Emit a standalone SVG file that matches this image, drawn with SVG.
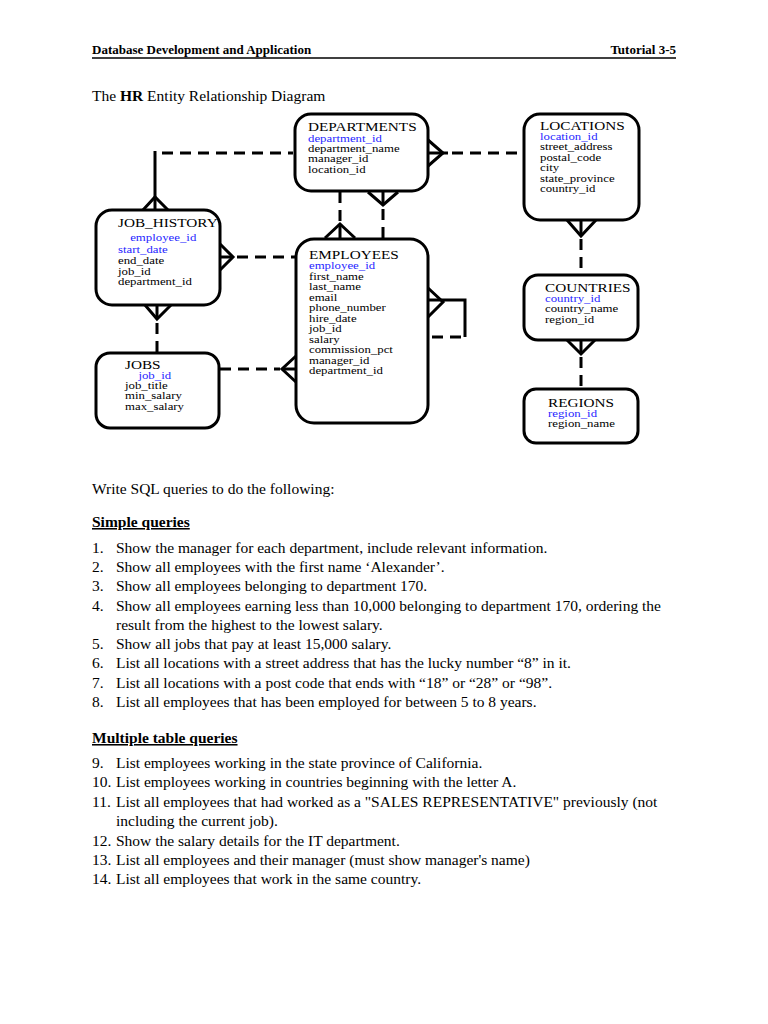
<svg xmlns="http://www.w3.org/2000/svg" width="768" height="1024" viewBox="0 0 768 1024">
<style>
.box{fill:#fff;stroke:#000;stroke-width:3}
.ln{fill:none;stroke:#000;stroke-width:3}
.ds{fill:none;stroke:#000;stroke-width:3;stroke-dasharray:11 7}
text{font-family:"Liberation Serif","Times New Roman",serif;fill:#000}
.ti{font-size:12.5px}
.f{font-size:10.5px}
.k{fill:#1f1fff}
.b{font-size:15.5px}
.h{font-size:13px;font-weight:bold}
</style>
<rect width="768" height="1024" fill="#fff"/>
<g id="header">
<text class="h" x="92" y="54">Database Development and Application</text>
<text class="h" x="676" y="54" text-anchor="end">Tutorial 3-5</text>
<line x1="92" y1="58" x2="676" y2="58" stroke="#000" stroke-width="1.5"/>
<text class="b" x="92" y="101">The <tspan font-weight="bold">HR</tspan> Entity Relationship Diagram</text>
</g>
<g id="connectors">
<polyline class="ln" points="428,140 443,153 428,166"/>
<line class="ln" x1="428" y1="153" x2="448" y2="153"/>
<line class="ds" x1="452" y1="153" x2="524" y2="153"/>
<line class="ds" x1="162" y1="153" x2="293" y2="153"/>
<line class="ln" x1="155" y1="151" x2="155" y2="210"/>
<polyline class="ln" points="143,210 155,197 168,210"/>
<polyline class="ln" points="567,220 581,236 596,220"/>
<line class="ln" x1="581" y1="220" x2="581" y2="236"/>
<line class="ds" x1="581" y1="239" x2="581" y2="274"/>
<polyline class="ln" points="567,340 581,354 595,340"/>
<line class="ln" x1="581" y1="340" x2="581" y2="354"/>
<line class="ds" x1="581" y1="357" x2="581" y2="388"/>
<polyline class="ln" points="220,244 233,257 220,270"/>
<line class="ln" x1="220" y1="257" x2="233" y2="257"/>
<line class="ds" x1="237" y1="257" x2="295" y2="257"/>
<polyline class="ln" points="145,305 157,319 171,305"/>
<line class="ln" x1="157" y1="305" x2="157" y2="319"/>
<line class="ds" x1="157" y1="323" x2="157" y2="352"/>
<line class="ds" x1="220" y1="369" x2="280" y2="369"/>
<line class="ln" x1="282" y1="369" x2="296" y2="369"/>
<polyline class="ln" points="296,356 282,369 296,382"/>
<line class="ds" x1="340" y1="192" x2="340" y2="222"/>
<polyline class="ln" points="325,238 340,224 355,238"/>
<line class="ln" x1="340" y1="224" x2="340" y2="238"/>
<polyline class="ln" points="368,192 383,205 398,192"/>
<line class="ln" x1="383" y1="192" x2="383" y2="205"/>
<line class="ds" x1="383" y1="209" x2="383" y2="238"/>
<polyline class="ln" points="428,288 443,302 428,317"/>
<polyline class="ln" points="428,300 465,300 465,337"/>
<line class="ds" x1="461" y1="337" x2="428" y2="337"/>
</g>
<g id="departments">
<rect class="box" x="295" y="114" width="133" height="77" rx="16"/>
<g transform="translate(308 0) scale(1.22 1) translate(-308 0)">
<text class="ti" x="308" y="131">DEPARTMENTS</text>
<text class="f k" x="308" y="142">department_id</text>
<text class="f" x="308" y="152">department_name</text>
<text class="f" x="308" y="162.5">manager_id</text>
<text class="f" x="308" y="173">location_id</text>
</g>
</g>
<g id="locations">
<rect class="box" x="524" y="114" width="115" height="106" rx="16"/>
<g transform="translate(540 0) scale(1.22 1) translate(-540 0)">
<text class="ti" x="540" y="130">LOCATIONS</text>
<text class="f k" x="540" y="140">location_id</text>
<text class="f" x="540" y="150.5">street_address</text>
<text class="f" x="540" y="161">postal_code</text>
<text class="f" x="540" y="171.5">city</text>
<text class="f" x="540" y="182">state_province</text>
<text class="f" x="540" y="192.5">country_id</text>
</g>
</g>
<g id="job_history">
<rect class="box" x="96" y="210" width="124" height="95" rx="16"/>
<g transform="translate(118 0) scale(1.22 1) translate(-118 0)">
<text class="ti" x="118" y="227">JOB_HISTORY</text>
<text class="f k" x="128" y="241">employee_id</text>
<text class="f k" x="118" y="253">start_date</text>
<text class="f" x="118" y="264">end_date</text>
<text class="f" x="118" y="274.5">job_id</text>
<text class="f" x="118" y="285">department_id</text>
</g>
</g>
<g id="employees">
<rect class="box" x="296" y="239" width="132" height="184" rx="18"/>
<g transform="translate(309 0) scale(1.22 1) translate(-309 0)">
<text class="ti" x="309" y="259">EMPLOYEES</text>
<text class="f k" x="309" y="269.5">employee_id</text>
<text class="f" x="309" y="280">first_name</text>
<text class="f" x="309" y="290.5">last_name</text>
<text class="f" x="309" y="301">email</text>
<text class="f" x="309" y="311.5">phone_number</text>
<text class="f" x="309" y="322">hire_date</text>
<text class="f" x="309" y="332.5">job_id</text>
<text class="f" x="309" y="343">salary</text>
<text class="f" x="309" y="353.5">commission_pct</text>
<text class="f" x="309" y="364">manager_id</text>
<text class="f" x="309" y="374.5">department_id</text>
</g>
</g>
<g id="countries">
<rect class="box" x="524" y="275" width="114" height="65" rx="14"/>
<g transform="translate(545 0) scale(1.22 1) translate(-545 0)">
<text class="ti" x="545" y="292">COUNTRIES</text>
<text class="f k" x="545" y="302">country_id</text>
<text class="f" x="545" y="312.5">country_name</text>
<text class="f" x="545" y="323">region_id</text>
</g>
</g>
<g id="jobs">
<rect class="box" x="96" y="353" width="123" height="75" rx="14"/>
<g transform="translate(125 0) scale(1.22 1) translate(-125 0)">
<text class="ti" x="125" y="369">JOBS</text>
<text class="f k" x="136" y="379">job_id</text>
<text class="f" x="125" y="389">job_title</text>
<text class="f" x="125" y="399.5">min_salary</text>
<text class="f" x="125" y="410">max_salary</text>
</g>
</g>
<g id="regions">
<rect class="box" x="524" y="389" width="114" height="54" rx="12"/>
<g transform="translate(548 0) scale(1.22 1) translate(-548 0)">
<text class="ti" x="548" y="407">REGIONS</text>
<text class="f k" x="548" y="417">region_id</text>
<text class="f" x="548" y="427.5">region_name</text>
</g>
</g>
<g id="questions">
<text class="b" x="92" y="494">Write SQL queries to do the following:</text>
<text class="b" x="92" y="527" font-weight="bold" text-decoration="underline">Simple queries</text>
<text class="b" x="92" y="553">1.</text><text class="b" x="116" y="553">Show the manager for each department, include relevant information.</text>
<text class="b" x="92" y="572">2.</text><text class="b" x="116" y="572">Show all employees with the first name ‘Alexander’.</text>
<text class="b" x="92" y="591">3.</text><text class="b" x="116" y="591">Show all employees belonging to department 170.</text>
<text class="b" x="92" y="611">4.</text><text class="b" x="116" y="611">Show all employees earning less than 10,000 belonging to department 170, ordering the</text>
<text class="b" x="116" y="630">result from the highest to the lowest salary.</text>
<text class="b" x="92" y="649">5.</text><text class="b" x="116" y="649">Show all jobs that pay at least 15,000 salary.</text>
<text class="b" x="92" y="668">6.</text><text class="b" x="116" y="668">List all locations with a street address that has the lucky number “8” in it.</text>
<text class="b" x="92" y="688">7.</text><text class="b" x="116" y="688">List all locations with a post code that ends with “18” or “28” or “98”.</text>
<text class="b" x="92" y="707">8.</text><text class="b" x="116" y="707">List all employees that has been employed for between 5 to 8 years.</text>
<text class="b" x="92" y="743" font-weight="bold" text-decoration="underline">Multiple table queries</text>
<text class="b" x="92" y="768">9.</text><text class="b" x="116" y="768">List employees working in the state province of California.</text>
<text class="b" x="92" y="787">10.</text><text class="b" x="116" y="787">List employees working in countries beginning with the letter A.</text>
<text class="b" x="92" y="807">11.</text><text class="b" x="116" y="807">List all employees that had worked as a "SALES REPRESENTATIVE" previously (not</text>
<text class="b" x="116" y="826">including the current job).</text>
<text class="b" x="92" y="846">12.</text><text class="b" x="116" y="846">Show the salary details for the IT department.</text>
<text class="b" x="92" y="865">13.</text><text class="b" x="116" y="865">List all employees and their manager (must show manager's name)</text>
<text class="b" x="92" y="884">14.</text><text class="b" x="116" y="884">List all employees that work in the same country.</text>
</g>
</svg>
